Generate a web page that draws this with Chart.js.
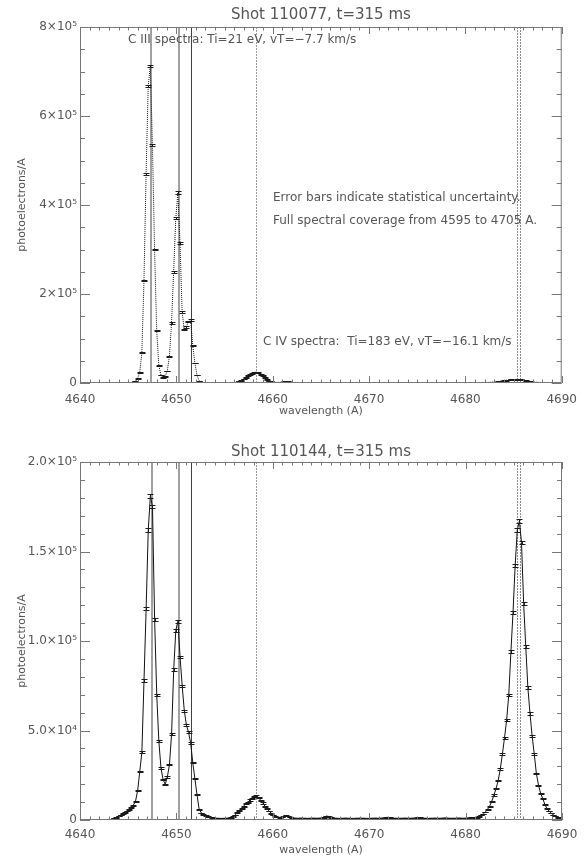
<!DOCTYPE html>
<html>
<head>
<meta charset="utf-8">
<script src="https://cdn.jsdelivr.net/npm/chart.js@4.4.0/dist/chart.umd.min.js"></script>
<style>
  html, body { margin: 0; padding: 0; background: #fff; }
  #wrap { position: relative; width: 587px; height: 857px; }
  canvas { position: absolute; left: 0; }
</style>
</head>
<body>
<div id="wrap">
  <canvas id="shotA" width="587" height="430" style="top:0"></canvas>
  <canvas id="shotB" width="587" height="427" style="top:430px"></canvas>
</div>
<script>
const wavelengthStart = 4643.56;
const wavelengthStep = 0.22;

// photoelectrons/A in units of 1e3, one value per pixel
const shotA_values = [
  0.5, 0.5, 0.6, 0.6, 0.7, 0.7, 0.8, 1.0, 1.3, 2.0,
  4, 10, 24, 68, 230, 470, 668, 712, 535, 300,
  118, 40, 18, 12, 15, 27, 60, 135, 250, 370,
  428, 315, 160, 120, 126, 138, 142, 85, 45, 18,
  5, 2, 1.2, 0.8, 0.7, 0.7, 0.6, 0.6, 0.6, 0.7,
  0.7, 0.8, 0.8, 0.9, 1.0, 1.1, 1.3, 1.5, 2.5, 4,
  6, 9, 12, 16, 19.5, 22, 24, 24.5, 23, 20,
  16, 12, 8, 5, 3, 2, 1.5, 1.4, 1.6, 2.2,
  3, 3.5, 3.4, 2.5, 1.6, 1.2, 1.0, 0.9, 0.9, 1.0,
  1.1, 1.0, 0.9, 0.8, 0.9, 1.0, 1.2, 1.3, 1.1, 1.0,
  0.9, 0.9, 1.0, 1.1, 1.0, 0.9, 0.8, 0.8, 0.9, 1.0,
  1.0, 0.9, 0.9, 1.0, 1.1, 1.2, 1.1, 1.0, 0.9, 0.9,
  1.0, 1.0, 0.9, 0.8, 0.8, 0.9, 1.0, 1.1, 1.2, 1.1,
  1.0, 0.9, 0.9, 1.0, 1.0, 0.9, 0.8, 0.9, 1.0, 1.0,
  1.1, 1.0, 0.9, 0.9, 1.0, 1.1, 1.1, 1.0, 0.9, 0.9,
  1.0, 1.0, 0.9, 0.9, 1.0, 1.1, 1.0, 0.9, 0.9, 1.0,
  1.0, 1.1, 1.0, 0.9, 1.0, 1.0, 1.1, 1.1, 1.0, 1.0,
  1.0, 1.0, 1.0, 1.1, 1.2, 1.3, 1.3, 1.5, 1.8, 2.2,
  2.7, 3.3, 4.0, 4.7, 5.5, 6.2, 6.9, 7.4, 7.8, 8.0,
  8.0, 7.8, 7.2, 6.5, 5.5, 4.6, 3.7, 2.9, 2.3, 1.8,
  1.5, 1.3, 1.2, 1.2, 1.1, 1.0, 1.0, 0.9, 0.9, 0.9,
  0.8, 0.8
];
const shotA_errors = [
  0.3, 0.3, 0.3, 0.3, 0.3, 0.3, 0.3, 0.3, 0.4, 0.4,
  0.5, 0.7, 0.9, 1.2, 1.8, 2.2, 2.4, 2.5, 2.3, 1.8,
  1.3, 0.9, 0.7, 0.6, 0.6, 0.8, 1.1, 1.5, 2.0, 2.4,
  2.6, 2.2, 1.6, 1.4, 1.4, 1.5, 1.6, 1.2, 0.9, 0.7,
  0.5, 0.4, 0.3, 0.3, 0.3, 0.3, 0.3, 0.3, 0.3, 0.3,
  0.3, 0.3, 0.3, 0.3, 0.3, 0.3, 0.3, 0.4, 0.4, 0.5,
  0.6, 0.7, 0.8, 0.9, 1.0, 1.0, 1.1, 1.1, 1.0, 1.0,
  0.9, 0.8, 0.7, 0.5, 0.4, 0.4, 0.3, 0.3, 0.3, 0.4,
  0.4, 0.4, 0.4, 0.4, 0.3, 0.3, 0.3, 0.3, 0.3, 0.3,
  0.3, 0.3, 0.3, 0.3, 0.3, 0.3, 0.3, 0.3, 0.3, 0.3,
  0.3, 0.3, 0.3, 0.3, 0.3, 0.3, 0.3, 0.3, 0.3, 0.3,
  0.3, 0.3, 0.3, 0.3, 0.3, 0.3, 0.3, 0.3, 0.3, 0.3,
  0.3, 0.3, 0.3, 0.3, 0.3, 0.3, 0.3, 0.3, 0.3, 0.3,
  0.3, 0.3, 0.3, 0.3, 0.3, 0.3, 0.3, 0.3, 0.3, 0.3,
  0.3, 0.3, 0.3, 0.3, 0.3, 0.3, 0.3, 0.3, 0.3, 0.3,
  0.3, 0.3, 0.3, 0.3, 0.3, 0.3, 0.3, 0.3, 0.3, 0.3,
  0.3, 0.3, 0.3, 0.3, 0.3, 0.3, 0.3, 0.3, 0.3, 0.3,
  0.3, 0.3, 0.3, 0.3, 0.3, 0.3, 0.3, 0.3, 0.4, 0.4,
  0.4, 0.5, 0.5, 0.5, 0.6, 0.6, 0.6, 0.7, 0.7, 0.7,
  0.7, 0.7, 0.7, 0.6, 0.6, 0.5, 0.5, 0.4, 0.4, 0.4,
  0.3, 0.3, 0.3, 0.3, 0.3, 0.3, 0.3, 0.3, 0.3, 0.3,
  0.3, 0.3
];

const shotB_values = [
  1.0, 1.5, 2.2, 2.8, 3.5, 4.3, 5.0, 6.0, 7.2, 8.3,
  10.5, 16.4, 27, 38, 78, 118, 162, 181, 175, 112,
  70, 44, 29, 22.5, 20, 24, 31, 48, 84, 106,
  111, 91, 75, 61, 53, 49, 43, 32, 23, 14,
  6, 4, 3, 2.5, 2, 1.6, 1.3, 1.1, 1.0, 1.0,
  0.9, 0.9, 1.0, 1.0, 1.2, 1.5, 2.0, 2.8, 4.0, 5.4,
  6.5, 7.8, 9.0, 10.0, 11.2, 12.2, 13.0, 13.4, 12.6, 11.0,
  9.5, 7.8, 6.3, 5.0, 3.8, 2.8, 2.0, 1.6, 1.5, 1.8,
  2.2, 2.4, 2.2, 1.6, 1.2, 1.1, 1.0, 1.0, 1.1, 1.0,
  1.0, 0.9, 1.0, 1.0, 1.1, 1.0, 1.0, 1.1, 1.2, 1.5,
  2.2, 2.0, 1.4, 1.1, 1.0, 1.0, 0.9, 1.0, 1.0, 1.1,
  1.0, 1.0, 0.9, 0.9, 1.0, 1.0, 1.1, 1.0, 1.0, 0.9,
  0.9, 1.0, 1.0, 1.1, 1.0, 1.0, 1.1, 1.2, 1.4, 1.5,
  1.3, 1.1, 1.0, 1.0, 0.9, 1.0, 1.0, 1.1, 1.0, 1.0,
  1.0, 1.1, 1.2, 1.4, 1.3, 1.1, 1.0, 1.0, 0.9, 1.0,
  1.0, 1.1, 1.0, 1.0, 1.0, 1.1, 1.2, 1.1, 1.0, 1.0,
  1.0, 1.0, 1.1, 1.1, 1.0, 1.0, 1.1, 1.2, 1.3, 1.3,
  1.2, 1.5, 2.0, 2.7, 3.4, 4.5, 6.0, 7.8, 10.5, 14,
  17.5, 22, 28.5, 37, 46, 56, 70, 94, 116, 142,
  162, 167, 155, 121, 97, 74, 59.5, 47, 37, 26,
  19.5, 15, 12, 8.7, 6.3, 5.0, 4.0, 2.8, 2.1, 1.5,
  1.1, 0.9
];
const shotB_errors = [
  0.10, 0.12, 0.15, 0.17, 0.19, 0.20, 0.22, 0.24, 0.26, 0.28,
  0.30, 0.36, 0.44, 0.52, 0.66, 0.78, 0.90, 0.95, 0.93, 0.75,
  0.60, 0.48, 0.40, 0.35, 0.33, 0.37, 0.42, 0.50, 0.66, 0.74,
  0.76, 0.69, 0.62, 0.56, 0.52, 0.50, 0.47, 0.41, 0.35, 0.28,
  0.19, 0.15, 0.13, 0.12, 0.11, 0.10, 0.10, 0.10, 0.10, 0.10,
  0.10, 0.10, 0.10, 0.10, 0.10, 0.12, 0.14, 0.17, 0.20, 0.23,
  0.25, 0.27, 0.29, 0.31, 0.32, 0.34, 0.35, 0.35, 0.34, 0.32,
  0.30, 0.27, 0.25, 0.22, 0.19, 0.17, 0.14, 0.13, 0.12, 0.13,
  0.14, 0.15, 0.14, 0.12, 0.11, 0.10, 0.10, 0.10, 0.10, 0.10,
  0.10, 0.10, 0.10, 0.10, 0.10, 0.10, 0.10, 0.10, 0.11, 0.12,
  0.14, 0.14, 0.12, 0.10, 0.10, 0.10, 0.10, 0.10, 0.10, 0.10,
  0.10, 0.10, 0.10, 0.10, 0.10, 0.10, 0.10, 0.10, 0.10, 0.10,
  0.10, 0.10, 0.10, 0.10, 0.10, 0.10, 0.10, 0.11, 0.12, 0.12,
  0.11, 0.10, 0.10, 0.10, 0.10, 0.10, 0.10, 0.10, 0.10, 0.10,
  0.10, 0.10, 0.11, 0.12, 0.11, 0.10, 0.10, 0.10, 0.10, 0.10,
  0.10, 0.10, 0.10, 0.10, 0.10, 0.10, 0.11, 0.10, 0.10, 0.10,
  0.10, 0.10, 0.10, 0.10, 0.10, 0.10, 0.10, 0.11, 0.11, 0.11,
  0.10, 0.12, 0.14, 0.16, 0.18, 0.21, 0.24, 0.27, 0.32, 0.37,
  0.31, 0.35, 0.39, 0.45, 0.50, 0.55, 0.62, 0.72, 0.80, 0.87,
  0.94, 0.96, 0.92, 0.82, 0.73, 0.64, 0.57, 0.50, 0.45, 0.38,
  0.33, 0.30, 0.27, 0.23, 0.20, 0.18, 0.16, 0.14, 0.12, 0.11,
  0.10, 0.10
];

const wavelengths = shotA_values.map((_, i) => wavelengthStart + wavelengthStep * i);

// line positions (A)
const refLines = [4647.42, 4650.25, 4651.47, 4658.30, 4685.38, 4685.66];
const refLineStyles = [
  { color: '#a0a0a0', width: 2 },
  { color: '#a0a0a0', width: 2 },
  { color: '#404040', width: 1 },
  { color: '#9a9a9a', width: 1, dash: [2, 1] },
  { color: '#8a8a8a', width: 1, dash: [2, 1] },
  { color: '#8a8a8a', width: 1, dash: [2, 1] }
];

const xTickValues = [4640, 4650, 4660, 4670, 4680, 4690];
const shotA_yTicks = [0, 200, 400, 600, 800];
const shotA_yLabels = ['0', '2×10⁵', '4×10⁵', '6×10⁵', '8×10⁵'];
const shotB_yTicks = [0, 50, 100, 150, 200];
const shotB_yLabels = ['0', '5.0×10⁴', '1.0×10⁵', '1.5×10⁵', '2.0×10⁵'];

const FONT = "'DejaVu Sans', sans-serif";
const TEXT = '#555';
const AXIS = '#777';

const idlAxes = {
    id: 'idlAxes',
    beforeDatasetsDraw(chart) {
        const { ctx, chartArea: a, scales: { x } } = chart;
        ctx.save();
        refLines.forEach((wl, k) => {
            const st = refLineStyles[k];
            const px = Math.round(x.getPixelForValue(wl)) + (st.width % 2 ? 0.5 : 0);
            ctx.strokeStyle = st.color;
            ctx.lineWidth = st.width;
            ctx.setLineDash(st.dash || []);
            ctx.beginPath();
            ctx.moveTo(px, a.top);
            ctx.lineTo(px, a.bottom);
            ctx.stroke();
        });
        ctx.restore();
    },
    afterDatasetsDraw(chart, args, o) {
        const { ctx, chartArea: a, scales: { x, y } } = chart;

        // error bars
        ctx.save();
        ctx.beginPath();
        ctx.rect(a.left, a.top, a.width, a.height);
        ctx.clip();
        ctx.strokeStyle = '#1a1a1a';
        ctx.lineWidth = 1;
        ctx.beginPath();
        wavelengths.forEach((wl, i) => {
            const px = Math.round(x.getPixelForValue(wl)) + 0.5;
            const v = o.values[i], e = o.errors[i];
            const y1 = Math.round(y.getPixelForValue(v + e)) + 0.5;
            const y2 = Math.round(y.getPixelForValue(v - e)) + 0.5;
            ctx.moveTo(px, y1 - 0.5); ctx.lineTo(px, y2 + 0.5);
            ctx.moveTo(px - 3, y1); ctx.lineTo(px + 3, y1);
            ctx.moveTo(px - 3, y2); ctx.lineTo(px + 3, y2);
        });
        ctx.stroke();
        ctx.restore();

        // frame and inward ticks
        ctx.save();
        ctx.strokeStyle = AXIS;
        ctx.lineWidth = 1;
        ctx.beginPath();
        ctx.rect(a.left + 0.5, a.top + 0.5, a.width - 1, a.height - 1);
        for (let w = x.min; w <= x.max; w += 1) {
            const px = Math.round(x.getPixelForValue(w)) + 0.5;
            const len = xTickValues.includes(w) ? 7 : 3.5;
            ctx.moveTo(px, a.bottom); ctx.lineTo(px, a.bottom - len);
            ctx.moveTo(px, a.top); ctx.lineTo(px, a.top + len);
        }
        for (let v = y.min; v <= y.max + 1e-9; v += o.yMinor) {
            const py = Math.round(y.getPixelForValue(v)) + 0.5;
            const major = o.yTicks.some(t => Math.abs(t - v) < 1e-6);
            const len = major ? 10 : 5;
            ctx.moveTo(a.left, py); ctx.lineTo(a.left + len, py);
            ctx.moveTo(a.right, py); ctx.lineTo(a.right - len, py);
        }
        ctx.stroke();
        ctx.restore();

        // title centred over the plot box, then notes
        ctx.save();
        ctx.fillStyle = TEXT;
        ctx.textBaseline = 'middle';
        ctx.textAlign = 'center';
        ctx.font = '15px ' + FONT;
        ctx.fillText(o.title, (a.left + a.right) / 2, o.titleY);
        ctx.textAlign = 'left';
        ctx.font = '12px ' + FONT;
        (o.notes || []).forEach(n => ctx.fillText(n.text, n.x, n.y));
        ctx.restore();
    }
};

const makeChart = (id, cfg) => {
    const ctx = document.getElementById(id);
    return new Chart(ctx, {
        type: 'line',
        data: {
            datasets: [{
                data: wavelengths.map((wl, i) => ({ x: wl, y: cfg.values[i] })),
                borderColor: '#111',
                borderWidth: 1,
                borderDash: cfg.dash,
                pointRadius: 0,
                tension: 0
            }]
        },
        options: {
            responsive: false,
            animation: false,
            layout: { padding: { left: 0, right: 25, top: cfg.topPad, bottom: 0 } },
            plugins: {
                legend: { display: false },
                tooltip: { enabled: false },
                title: { display: false },
                idlAxes: {
                    title: cfg.title,
                    titleY: cfg.titleY,
                    values: cfg.values,
                    errors: cfg.errors,
                    yTicks: cfg.yTicks,
                    yMinor: cfg.yMinor,
                    notes: cfg.notes
                }
            },
            scales: {
                x: {
                    type: 'linear',
                    min: 4640,
                    max: 4690,
                    afterBuildTicks: s => { s.ticks = xTickValues.map(v => ({ value: v })); },
                    afterFit: s => { s.height = cfg.xAxisHeight; },
                    grid: { display: false, drawTicks: false },
                    border: { display: false },
                    ticks: {
                        color: TEXT,
                        font: { family: FONT, size: 12 },
                        padding: cfg.xTickPad,
                        maxRotation: 0,
                        callback: v => String(v)
                    },
                    title: {
                        display: true,
                        text: 'wavelength (A)',
                        color: TEXT,
                        font: { family: FONT, size: 11 },
                        padding: { top: 0, bottom: cfg.xTitlePad }
                    }
                },
                y: {
                    min: 0,
                    max: cfg.yTicks[cfg.yTicks.length - 1],
                    afterBuildTicks: s => { s.ticks = cfg.yTicks.map(v => ({ value: v })); },
                    afterFit: s => { s.width = 80; },
                    grid: { display: false, drawTicks: false },
                    border: { display: false },
                    ticks: {
                        color: TEXT,
                        font: { family: FONT, size: 12 },
                        padding: 3,
                        callback: (v, i) => cfg.yLabels[i]
                    },
                    title: {
                        display: true,
                        text: 'photoelectrons/A',
                        color: TEXT,
                        font: { family: FONT, size: 11 },
                        padding: { top: 16, bottom: 0 }
                    }
                }
            }
        },
        plugins: [idlAxes]
    });
};

makeChart('shotA', {
    title: 'Shot 110077, t=315 ms',
    titleY: 15,
    topPad: 27,
    values: shotA_values,
    errors: shotA_errors,
    dash: [1, 1],
    yTicks: shotA_yTicks,
    yLabels: shotA_yLabels,
    yMinor: 50,
    xAxisHeight: 47,
    xTickPad: 10,
    xTitlePad: 12,
    notes: [
        { text: 'C III spectra: Ti=21 eV, vT=−7.7 km/s', x: 128, y: 40 },
        { text: 'Error bars indicate statistical uncertainty.', x: 273, y: 198 },
        { text: 'Full spectral coverage from 4595 to 4705 A.', x: 273, y: 221 },
        { text: 'C IV spectra:  Ti=183 eV, vT=−16.1 km/s', x: 263, y: 342 }
    ]
});

makeChart('shotB', {
    title: 'Shot 110144, t=315 ms',
    titleY: 22,
    topPad: 32,
    values: shotB_values,
    errors: shotB_errors,
    dash: [],
    yTicks: shotB_yTicks,
    yLabels: shotB_yLabels,
    yMinor: 10,
    xAxisHeight: 37,
    xTickPad: 8,
    xTitlePad: 0,
    notes: []
});
</script>
</body>
</html>
